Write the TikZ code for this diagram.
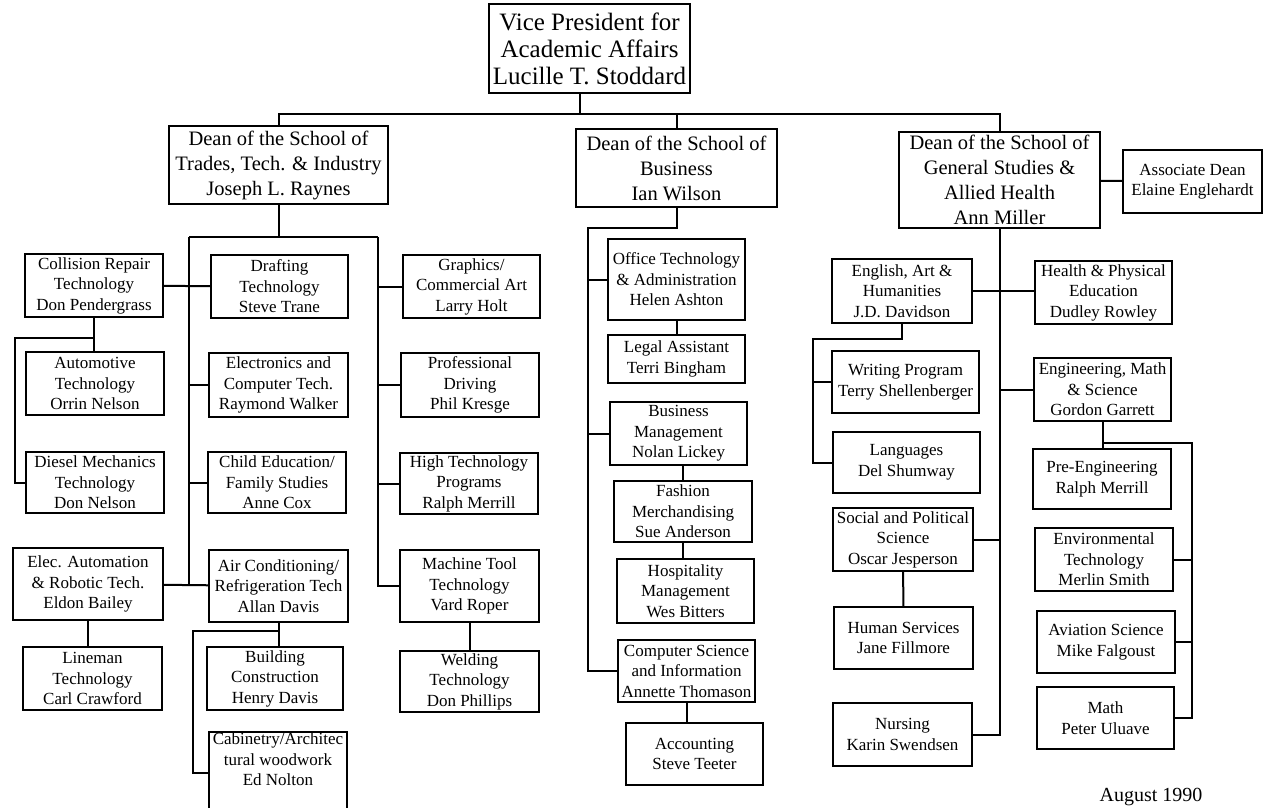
\documentclass[tikz,border=0pt]{standalone}
\usepackage{fontspec}
\setmainfont{Liberation Serif}
\newcommand{\unitfont}{\fontsize{17}{20.5}\selectfont}
\newcommand{\deanfont}{\fontsize{20.5}{25}\selectfont}
\newcommand{\vpfont}{\fontsize{25}{27}\selectfont}
\newcommand{\datefont}{\fontsize{20}{24}\selectfont}

\begin{document}
\begin{tikzpicture}[x=1pt, y=-1pt,
    unit/.style={draw, line width=2pt, align=center, inner sep=1pt, font=\unitfont},
    dean/.style={unit, font=\deanfont},
    sz/.style 2 args={minimum width=#1pt, minimum height=#2pt},
    link/.style={line width=2pt}]
    \useasboundingbox (0,0) rectangle (1264,807);

    \node[unit, font=\vpfont, sz={201}{89}] (VP) at (589.5,48.5) {Vice President for\\Academic Affairs\\Lucille T. Stoddard};
    \node[dean, sz={219}{78}] (Trades) at (278.5,165) {Dean of the School of\\Trades, Tech. \& Industry\\Joseph L. Raynes};
    \node[dean, sz={201}{78}] (Business) at (676.5,168) {Dean of the School of\\Business\\Ian Wilson};
    \node[dean, sz={201}{96}] (General) at (999.5,180) {Dean of the School of\\General Studies \&\\Allied Health\\Ann Miller};
    \node[unit, sz={139}{63}] (assoc) at (1192.5,181.5) {Associate Dean\\Elaine Englehardt};

    \node[unit, sz={138}{63}] (collision) at (94,285.5) {Collision Repair\\Technology\\Don Pendergrass};
    \node[unit, sz={137}{63}] (drafting) at (279.5,286.5) {Drafting\\Technology\\Steve Trane};
    \node[unit, sz={137}{63}] (graphics) at (471.5,286.5) {Graphics/\\Commercial Art\\Larry Holt};
    \node[unit, sz={138}{63}] (automotive) at (95,383.5) {Automotive\\Technology\\Orrin Nelson};
    \node[unit, sz={139}{64}] (electronics) at (278.5,385) {Electronics and\\Computer Tech.\\Raymond Walker};
    \node[unit, sz={138}{64}] (driving) at (470,385) {Professional\\Driving\\Phil Kresge};
    \node[unit, sz={138}{61}] (diesel) at (95,482.5) {Diesel Mechanics\\Technology\\Don Nelson};
    \node[unit, sz={138}{61}] (child) at (277,482.5) {Child Education/\\Family Studies\\Anne Cox};
    \node[unit, sz={138}{61}] (hightech) at (469,483.5) {High Technology\\Programs\\Ralph Merrill};
    \node[unit, sz={150}{72}] (robotics) at (88,584) {Elec. Automation\\\& Robotic Tech.\\Eldon Bailey};
    \node[unit, sz={139}{72}] (aircond) at (278.5,586) {Air Conditioning/\\Refrigeration Tech\\Allan Davis};
    \node[unit, sz={139}{72}] (machine) at (469.5,586) {Machine Tool\\Technology\\Vard Roper};
    \node[unit, sz={139}{63}] (lineman) at (92.5,678.5) {Lineman\\Technology\\Carl Crawford};
    \node[unit, sz={136}{63}] (building) at (275,678.5) {Building\\Construction\\Henry Davis};
    \node[unit, sz={139}{61}] (welding) at (469.5,681.5) {Welding\\Technology\\Don Phillips};
    \node[unit, minimum width=138pt, text depth=28pt, anchor=north] (cabinetry) at (278,731) {Cabinetry/Architec\\tural woodwork\\Ed Nolton};

    \node[unit, sz={137}{81}] (office) at (676.5,279.5) {Office Technology\\\& Administration\\Helen Ashton};
    \node[unit, sz={137}{48}] (legal) at (676.5,359) {Legal Assistant\\Terri Bingham};
    \node[unit, sz={137}{63}] (management) at (678.5,433.5) {Business\\Management\\Nolan Lickey};
    \node[unit, sz={138}{61}] (fashion) at (683,511.5) {Fashion\\Merchandising\\Sue Anderson};
    \node[unit, sz={137}{64}] (hospitality) at (685.5,591) {Hospitality\\Management\\Wes Bitters};
    \node[unit, sz={137}{62}] (computing) at (686.5,671) {Computer Science\\and Information\\Annette Thomason};
    \node[unit, sz={137}{62}] (accounting) at (694.5,754) {Accounting\\Steve Teeter};

    \node[unit, sz={140}{64}] (english) at (902,291) {English, Art \&\\Humanities\\J.D. Davidson};
    \node[unit, sz={137}{63}] (health) at (1103.5,292.5) {Health \& Physical\\Education\\Dudley Rowley};
    \node[unit, sz={147}{62}] (writing) at (905.5,382) {Writing Program\\Terry Shellenberger};
    \node[unit, sz={137}{63}] (engineering) at (1102.5,389.5) {Engineering, Math\\\& Science\\Gordon Garrett};
    \node[unit, sz={147}{61}] (languages) at (906.5,462.5) {Languages\\Del Shumway};
    \node[unit, sz={138}{60}] (preeng) at (1102,479) {Pre-Engineering\\Ralph Merrill};
    \node[unit, sz={140}{63}] (social) at (903,539.5) {Social and Political\\Science\\Oscar Jesperson};
    \node[unit, sz={138}{63}] (environment) at (1104,559.5) {Environmental\\Technology\\Merlin Smith};
    \node[unit, sz={139}{62}] (human) at (903.5,638) {Human Services\\Jane Fillmore};
    \node[unit, sz={138}{62}] (aviation) at (1106,642) {Aviation Science\\Mike Falgoust};
    \node[unit, sz={139}{63}] (nursing) at (902.5,734.5) {Nursing\\Karin Swendsen};
    \node[unit, sz={137}{62}] (math) at (1105.5,718) {Math\\Peter Uluave};

    \node[font=\datefont] (date) at (1151,797) {August 1990};

    \coordinate (topbar) at (0,114);
    \coordinate (vpstem) at (580,93);
    \coordinate (tradesbar) at (0,237);
    \coordinate (tl) at (189,237);
    \coordinate (tr) at (378,237);
    \coordinate (collisionbar) at (15,338);
    \coordinate (aircondbar) at (193,631);
    \coordinate (businessbar) at (588,228);
    \coordinate (englishbar) at (813,339);
    \coordinate (engineeringbar) at (1192,443);

    \draw[link] (vpstem) -- (vpstem |- topbar);
    \draw[link] (Trades.north) |- (General.north |- topbar) -- (General.north);
    \draw[link] (Business.north) -- (Business.north |- topbar);

    \draw[link] (Trades.south) -- (Trades.south |- tradesbar);
    \draw[link] (tl) -- (tr);
    \draw[link] (tl) -- (tl |- aircond.west);
    \draw[link] (tr) |- (machine.west);
    \draw[link] (collision) -- (drafting);
    \draw[link] (tl |- electronics.west) -- (electronics.west);
    \draw[link] (tl |- child.west) -- (child.west);
    \draw[link] (robotics) -- (aircond);
    \draw[link] (tr |- graphics.west) -- (graphics.west);
    \draw[link] (tr |- driving.west) -- (driving.west);
    \draw[link] (tr |- hightech.west) -- (hightech.west);
    \draw[link] (collision.south) -- (collision.south |- automotive.north);
    \draw[link] (collision.south |- collisionbar) -- (collisionbar) |- (diesel.west);
    \draw[link] (robotics.south) -- (robotics.south |- lineman.north);
    \draw[link] (aircond.south) -- (aircond.south |- building.north);
    \draw[link] (aircond.south |- aircondbar) -- (aircondbar) |- (cabinetry.west);
    \draw[link] (machine) -- (welding);

    \draw[link] (Business.south) -- (Business.south |- businessbar) -- (businessbar) |- (computing.west);
    \draw[link] (businessbar |- office.west) -- (office.west);
    \draw[link] (businessbar |- management.west) -- (management.west);
    \draw[link] (office) -- (legal);
    \draw[link] (fashion.north) -- (fashion.north |- management.south);
    \draw[link] (fashion.south) -- (fashion.south |- hospitality.north);
    \draw[link] (computing.south) -- (computing.south |- accounting.north);

    \draw[link] (General) -- (assoc);
    \draw[link] (General.south) |- (nursing.east);
    \draw[link] (english.east) -- (english.east -| health.west);
    \draw[link] (General.south |- engineering.west) -- (engineering.west);
    \draw[link] (social.east) -- (social.east -| General.south);
    \draw[link] (english.south) -- (english.south |- englishbar) -- (englishbar) |- (languages.west);
    \draw[link] (englishbar |- writing.west) -- (writing.west);
    \draw[link] (social) -- (human);
    \draw[link] (engineering.south) -- (engineering.south |- preeng.north);
    \draw[link] (engineering.south |- engineeringbar) -- (engineeringbar) |- (math.east);
    \draw[link] (environment.east) -- (environment.east -| engineeringbar);
    \draw[link] (aviation.east) -- (aviation.east -| engineeringbar);
\end{tikzpicture}
\end{document}
